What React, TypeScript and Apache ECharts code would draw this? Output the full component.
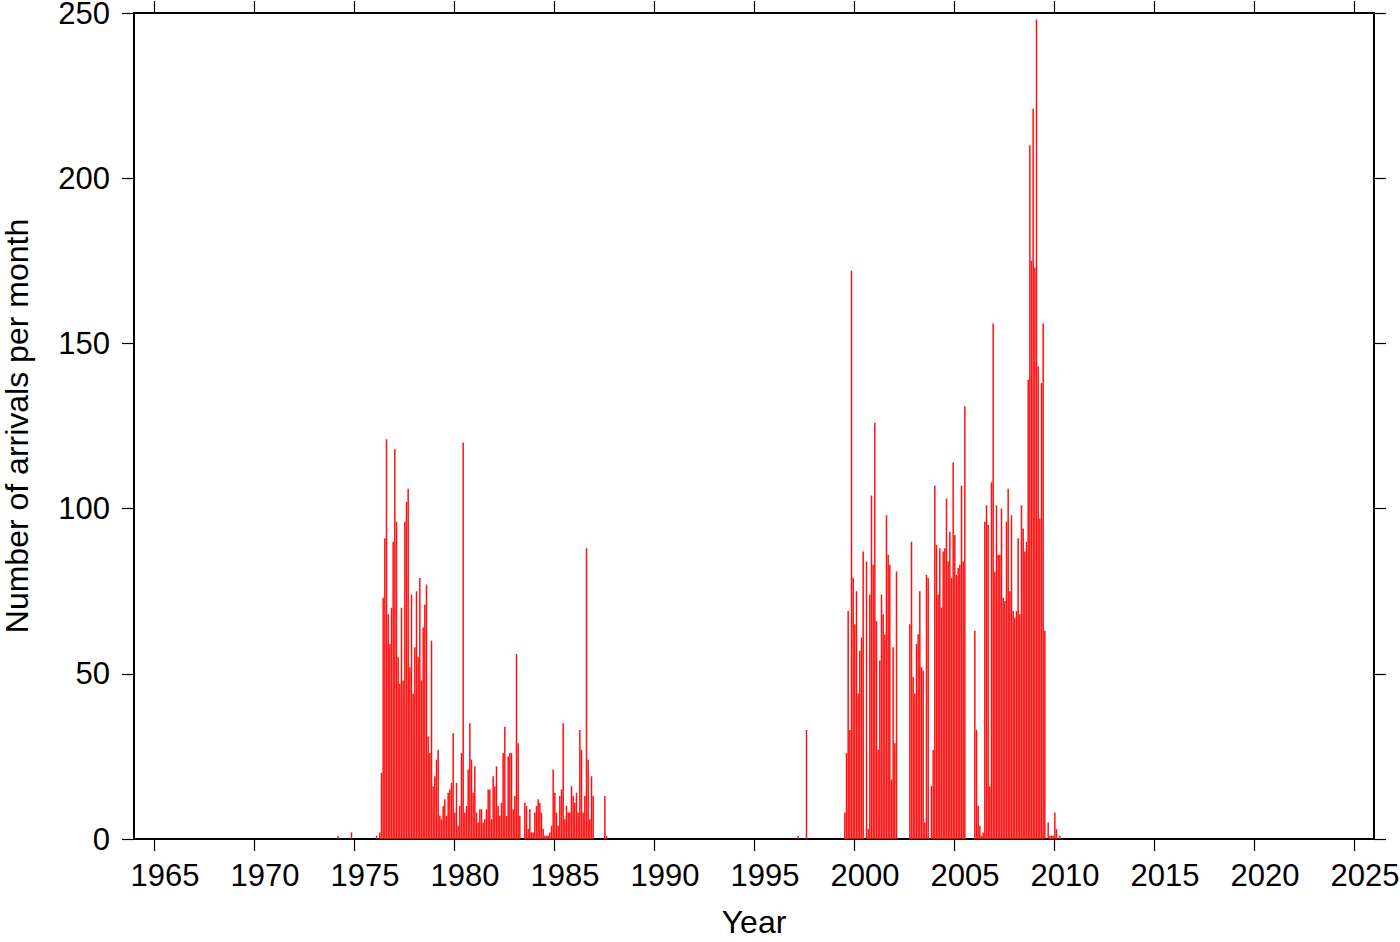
import React, { useEffect, useRef } from "react";
import * as echarts from "echarts";

// Monthly arrival counts (Jan..Dec) for each year that has data
const years = [1974, 1976, 1977, 1978, 1979, 1980, 1981, 1982, 1983, 1984, 1985, 1986, 1987, 1997, 1999, 2000, 2001, 2002, 2003, 2004, 2005, 2006, 2007, 2008, 2009, 2010];

const m1974 = [0, 0, 1, 0, 0, 0, 0, 0, 0, 0, 2, 0];
const m1976 = [0, 1, 0, 2, 20, 73, 91, 121, 68, 59, 70, 90];
const m1977 = [118, 96, 55, 47, 70, 48, 96, 102, 106, 52, 74, 44];
const m1978 = [58, 75, 55, 79, 48, 64, 71, 77, 31, 26, 60, 16];
const m1979 = [19, 24, 27, 7, 6, 10, 12, 7, 14, 15, 17, 32];
const m1980 = [8, 17, 4, 10, 26, 120, 8, 10, 21, 35, 24, 14];
const m1981 = [22, 8, 5, 9, 9, 5, 6, 9, 15, 15, 6, 19];
const m1982 = [16, 22, 10, 7, 11, 26, 34, 7, 25, 26, 26, 9];
const m1983 = [13, 56, 29, 7, 0, 0, 11, 10, 3, 9, 2, 2];
const m1984 = [8, 10, 12, 11, 8, 3, 1, 1, 1, 2, 4, 21];
const m1985 = [14, 8, 4, 13, 15, 35, 6, 10, 8, 8, 16, 13];
const m1986 = [11, 14, 8, 33, 27, 8, 13, 88, 24, 6, 19, 13];
const m1987 = [0, 0, 0, 0, 0, 0, 13, 1, 0, 0, 0, 0];
const m1997 = [0, 0, 1, 0, 0, 0, 0, 33, 0, 0, 0, 0];
const m1999 = [0, 0, 0, 0, 0, 0, 8, 26, 69, 33, 172, 79];
const m2000 = [65, 75, 44, 57, 61, 87, 0, 84, 3, 74, 104, 83];
const m2001 = [126, 66, 27, 54, 74, 68, 62, 98, 86, 83, 18, 58];
const m2002 = [29, 81, 0, 0, 0, 0, 0, 0, 0, 65, 90, 49];
const m2003 = [44, 59, 62, 75, 52, 51, 5, 80, 79, 0, 16, 27];
const m2004 = [107, 89, 74, 88, 70, 87, 88, 103, 84, 93, 79, 114];
const m2005 = [92, 80, 82, 83, 107, 84, 131, 0, 0, 0, 0, 0];
const m2006 = [63, 33, 10, 4, 1, 2, 96, 101, 95, 16, 108, 156];
const m2007 = [81, 101, 86, 86, 100, 73, 72, 96, 106, 75, 98, 69];
const m2008 = [67, 69, 91, 68, 101, 94, 87, 90, 139, 210, 175, 221];
const m2009 = [173, 248, 143, 97, 138, 156, 63, 0, 5, 1, 1, 1];
const m2010 = [8, 3, 0, 1, 0, 0, 0, 0, 0, 0, 0, 0];

const monthly = [m1974, m1976, m1977, m1978, m1979, m1980, m1981, m1982, m1983, m1984, m1985, m1986, m1987, m1997, m1999, m2000, m2001, m2002, m2003, m2004, m2005, m2006, m2007, m2008, m2009, m2010];

const xTicks = [1965, 1970, 1975, 1980, 1985, 1990, 1995, 2000, 2005, 2010, 2015, 2020, 2025];
const yTicks = [0, 50, 100, 150, 200, 250];

const FONT = "Liberation Sans, Arial, Helvetica, sans-serif";

export default function App() {
  const ref = useRef<HTMLDivElement>(null);

  useEffect(() => {
    if (!ref.current) return;
    const chart = echarts.init(ref.current, undefined, { renderer: "svg" });

    const data: [number, number][] = [];
    years.forEach((yr, i) => {
      monthly[i].forEach((v, m) => {
        data.push([yr + (m + 0.5) / 12, v]);
      });
    });

    const lineStyle = { color: "#000", width: 2 };
    const tickStyle = { color: "#000", width: 1.2 };

    chart.setOption({
      animation: false,
      backgroundColor: "#fff",
      grid: {
        left: 134,
        top: 13,
        width: 1240,
        height: 826,
        containLabel: false,
        outerBoundsMode: "none",
      },
      xAxis: [
        {
          type: "value",
          position: "bottom",
          min: 1964,
          max: 2026,
          axisLine: { show: true, onZero: false, lineStyle },
          axisTick: { show: true, inside: false, length: 12, lineStyle: tickStyle, customValues: xTicks },
          axisLabel: {
            show: true,
            customValues: xTicks,
            color: "#000",
            fontSize: 31,
            fontFamily: FONT,
            margin: 21,
            padding: [0, 0, 0, 22],
            formatter: (v: number) => String(v),
          },
          splitLine: { show: false },
          name: "Year",
          nameLocation: "middle",
          nameGap: 67,
          nameTextStyle: { color: "#000", fontSize: 32, fontFamily: FONT },
        },
        {
          type: "value",
          position: "top",
          min: 1964,
          max: 2026,
          axisLine: { show: true, onZero: false, lineStyle },
          axisTick: { show: true, inside: false, length: 12, lineStyle: tickStyle, customValues: xTicks },
          axisLabel: { show: false },
          splitLine: { show: false },
        },
      ],
      yAxis: [
        {
          type: "value",
          position: "left",
          min: 0,
          max: 250,
          interval: 50,
          axisLine: { show: true, onZero: false, lineStyle },
          axisTick: { show: true, inside: false, length: 12, lineStyle: tickStyle, customValues: yTicks },
          axisLabel: {
            show: true,
            customValues: yTicks,
            color: "#000",
            fontSize: 31,
            lineHeight: 26,
            fontFamily: FONT,
            margin: 24,
          },
          splitLine: { show: false },
          name: "Number of arrivals per month",
          nameLocation: "middle",
          nameGap: 101,
          nameTextStyle: { color: "#000", fontSize: 32, fontFamily: FONT },
        },
        {
          type: "value",
          position: "right",
          min: 0,
          max: 250,
          interval: 50,
          axisLine: { show: true, onZero: false, lineStyle },
          axisTick: { show: true, inside: false, length: 12, lineStyle: tickStyle },
          axisLabel: { show: false },
          splitLine: { show: false },
        },
      ],
      series: [
        {
          type: "bar",
          xAxisIndex: 0,
          yAxisIndex: 0,
          data,
          barWidth: 1.5,
          itemStyle: { color: "#ff1010" },
        },
      ],
    });

    return () => chart.dispose();
  }, []);

  return (
    <div
      ref={ref}
      style={{ position: "fixed", left: 0, top: 0, width: 1400, height: 942, background: "#fff" }}
    />
  );
}
